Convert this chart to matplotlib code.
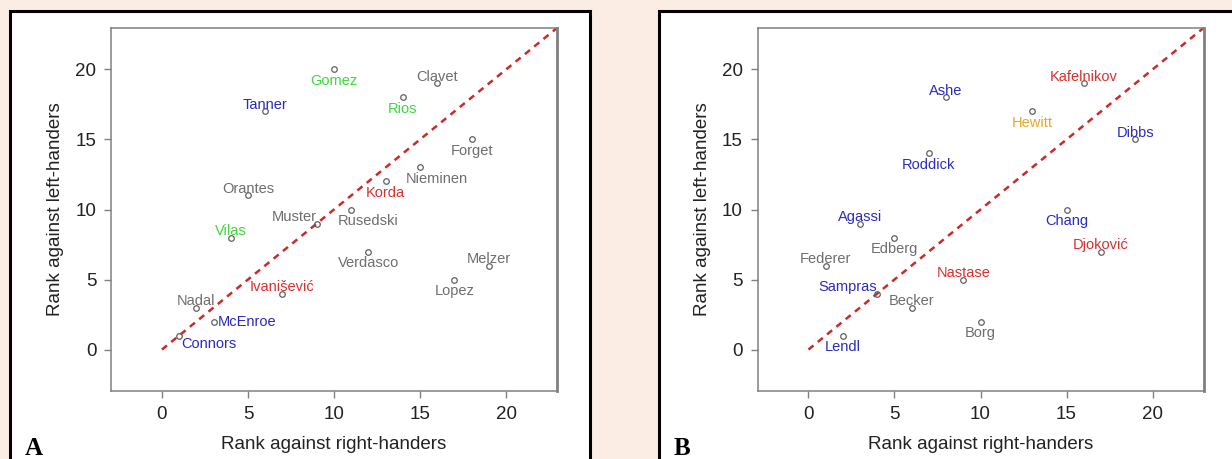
import matplotlib.pyplot as plt
from matplotlib.patches import Rectangle

# panel A
names_a = ["Gomez", "Clavet", "Tanner", "Rios", "Forget", "Nieminen", "Orantes",
           "Korda", "Muster", "Rusedski", "Vilas", "Verdasco", "Melzer", "Lopez",
           "Ivanišević", "Nadal", "McEnroe", "Connors"]
right_a = [10, 16, 6, 14, 18, 15, 5, 13, 9, 11, 4, 12, 19, 17, 7, 2, 3, 1]
left_a = [20, 19, 17, 18, 15, 13, 11, 12, 9, 10, 8, 7, 6, 5, 4, 3, 2, 1]
group_a = ["green", "gray", "blue", "green", "gray", "gray", "gray",
           "red", "gray", "gray", "green", "gray", "gray", "gray",
           "red", "gray", "blue", "blue"]

# panel B
names_b = ["Kafelnikov", "Ashe", "Hewitt", "Dibbs", "Roddick", "Agassi", "Edberg",
           "Federer", "Sampras", "Becker", "Nastase", "Borg", "Lendl", "Chang",
           "Djoković"]
right_b = [16, 8, 13, 19, 7, 3, 5, 1, 4, 6, 9, 10, 2, 15, 17]
left_b = [19, 18, 17, 15, 14, 9, 8, 6, 4, 3, 5, 2, 1, 10, 7]
group_b = ["red", "blue", "gold", "blue", "blue", "blue", "gray",
           "gray", "blue", "gray", "red", "gray", "blue", "blue", "red"]

palette = {"gray": "#6e6e6e", "blue": "#2b2bc0", "green": "#3cd83c",
           "red": "#d93030", "gold": "#e6a82a"}

# where each label sits relative to its point
placement = {
    "above": dict(xytext=(0, 1.5), ha="center", va="baseline"),
    "below": dict(xytext=(0, -3), ha="center", va="top"),
    "left_above": dict(xytext=(0, 1.5), ha="right", va="baseline"),
    "right": dict(xytext=(3, 0), ha="left", va="center"),
    "below_right": dict(xytext=(1.5, -1), ha="left", va="top"),
    "below_shift": dict(xytext=(12, -3), ha="center", va="top"),
}
below_a = {"Gomez", "Rios", "Forget", "Korda", "Verdasco", "Lopez"}
special = {"Muster": "left_above", "Rusedski": "below_shift", "Nieminen": "below_shift",
           "McEnroe": "right", "Connors": "below_right", "Sampras": "left_above"}
below_b = {"Hewitt", "Roddick", "Edberg", "Borg", "Lendl", "Chang"}

bg = "#fcede4"
fig = plt.figure(figsize=(12.32, 4.59), dpi=100, facecolor=bg)
plt.rcParams["font.family"] = ["Liberation Sans", "DejaVu Sans"]

# white panel boxes with black frame
for x0, x1 in [(10, 590), (659, 1245)]:
    fig.patches.append(Rectangle((x0 / 1232, -0.05), (x1 - x0) / 1232, 1.05 - 11 / 459,
                                 transform=fig.transFigure, facecolor="white",
                                 edgecolor="black", linewidth=2.2, zorder=-5))


def panel(left, names, xs, ys, groups, below, letter, letter_x):
    ax = fig.add_axes([left / 1232, 1 - 391 / 459, 446 / 1232, 363 / 459])
    ax.set_zorder(2)
    ax.set_xlim(-2.96, 22.96)
    ax.set_ylim(-2.96, 22.96)
    ax.plot([0, 30], [0, 30], color="#cc2a2a", lw=1.8, dashes=(2.6, 2.2), zorder=1)
    ax.plot(xs, ys, "o", ms=4, mfc="none", mec="#606060", mew=0.9, zorder=2)
    for name, x, y, g in zip(names, xs, ys, groups):
        key = special.get(name, "below" if name in below else "above")
        ax.annotate(name, (x, y), textcoords="offset points", fontsize=10.5,
                    color=palette[g], zorder=3, **placement[key])
    ax.set_xticks([0, 5, 10, 15, 20])
    ax.set_yticks([0, 5, 10, 15, 20])
    for s in ax.spines.values():
        s.set_color("#808080")
        s.set_linewidth(1.1)
    ax.spines["right"].set_linewidth(2)
    ax.tick_params(length=5, width=1, color="#808080", pad=5.5,
                   labelsize=13.5, labelcolor="#222222")
    ax.set_xlabel("Rank against right-handers", fontsize=13.5, color="#222222")
    ax.set_ylabel("Rank against left-handers", fontsize=13.5, color="#222222")
    ax.xaxis.set_label_coords(0.5, -0.125)
    ax.yaxis.set_label_coords(-0.105, 0.5)
    t = fig.text(letter_x / 1232, 1 - 455 / 459, letter, ha="left", va="baseline",
                 fontsize=18, fontweight="bold", family="Liberation Serif")
    t.set_zorder(3)
    return ax


panel(111, names_a, right_a, left_a, group_a, below_a, "A", 25)
panel(757.5, names_b, right_b, left_b, group_b, below_b, "B", 674)

fig.savefig("out.png", dpi=100, facecolor=bg)
